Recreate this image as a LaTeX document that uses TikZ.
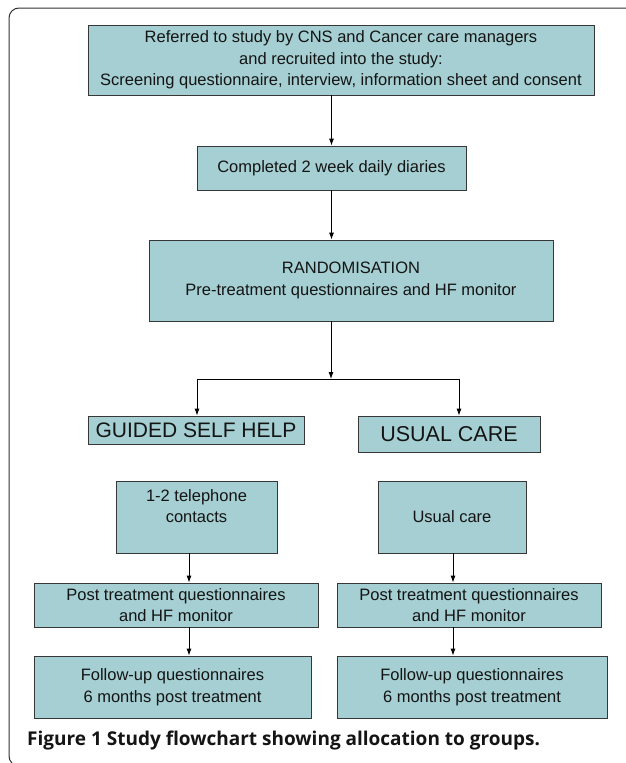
\documentclass[tikz,border=0pt]{standalone}
\usepackage{fontspec}
\setmainfont{Liberation Sans}
\newfontfamily\capfont{Open Sans}
\usetikzlibrary{arrows.meta}
\definecolor{boxfill}{RGB}{165,207,210}
\definecolor{boxline}{RGB}{55,55,55}
\definecolor{framecol}{RGB}{50,50,50}
\definecolor{txt}{RGB}{20,20,20}
\tikzset{
  flowbox/.style={draw=boxline, fill=boxfill, line width=0.8pt, inner sep=0pt,
    align=center, text=txt, font=\fontsize{16.5}{21.5}\selectfont},
  arr/.style={draw=black, line width=0.9pt, -{Latex[length=7pt,width=5pt]}},
  plainline/.style={draw=black, line width=0.9pt}
}
\begin{document}
\begin{tikzpicture}[x=1pt,y=-1pt]
\useasboundingbox (0,0) rectangle (625,763);
\fill[white] (0,0) rectangle (625,763);
% outer frame
\draw[draw=framecol, line width=1pt, rounded corners=10pt] (640,8) -- (9,8) -- (9,766) -- (640,766);

\node[flowbox, minimum width=506pt, minimum height=70pt] (top) at (341,60)
  {Referred to study by CNS and Cancer care managers\\and recruited into the study:\\Screening questionnaire, interview, information sheet and consent};
\node[flowbox, minimum width=269pt, minimum height=44pt] (diary) at (331.5,168)
  {Completed 2 week daily diaries};
\node[flowbox, minimum width=404pt, minimum height=81pt] (rand) at (351,280.5)
  {RANDOMISATION\\Pre-treatment questionnaires and HF monitor};
\node[flowbox, minimum width=216pt, minimum height=28pt, font=\fontsize{21}{24}\selectfont] (gsh) at (196,430)
  {GUIDED SELF HELP};
\node[flowbox, minimum width=182pt, minimum height=36pt, font=\fontsize{21.5}{24}\selectfont] (uc) at (449,434)
  {USUAL CARE};
\node[flowbox, minimum width=161pt, minimum height=72pt] (tel) at (196.5,517)
  {1-2 telephone\\contacts\\\mbox{}};
\node[flowbox, minimum width=148pt, minimum height=72pt] (ucare) at (452,517)
  {Usual care};
\node[flowbox, minimum width=284pt, minimum height=44pt] (postL) at (176,605)
  {Post treatment questionnaires\\and HF monitor};
\node[flowbox, minimum width=264pt, minimum height=44pt] (postR) at (469,605)
  {Post treatment questionnaires\\and HF monitor};
\node[flowbox, minimum width=277pt, minimum height=62pt] (folL) at (172.5,687)
  {Follow-up questionnaires\\6 months post treatment};
\node[flowbox, minimum width=270pt, minimum height=62pt] (folR) at (472,687)
  {Follow-up questionnaires\\6 months post treatment};

\coordinate (split) at (331,379);
\coordinate (lb) at (197,379);
\coordinate (rb) at (459,379);
\coordinate (la) at (189,600);
\coordinate (ra) at (453,600);

\draw[arr] (diary.north |- top.south) -- (diary.north);
\draw[arr] (diary.south) -- (diary.south |- rand.north);
\draw[arr] (rand.south -| split) -- (split);
\draw[plainline] (lb) -- (rb);
\draw[arr] (lb) -- (lb |- gsh.north);
\draw[arr] (rb) -- (rb |- uc.north);
\draw[arr] (tel.south -| la) -- (postL.north -| la);
\draw[arr] (postL.south -| la) -- (folL.north -| la);
\draw[arr] (ucare.south -| ra) -- (postR.north -| ra);
\draw[arr] (postR.south -| ra) -- (folR.north -| ra);

\node[anchor=base west, inner sep=0pt, text=txt, font=\capfont\bfseries\fontsize{19}{22}\selectfont] (cap) at (27,745)
  {Figure 1 Study flowchart showing allocation to groups.};
\end{tikzpicture}
\end{document}
